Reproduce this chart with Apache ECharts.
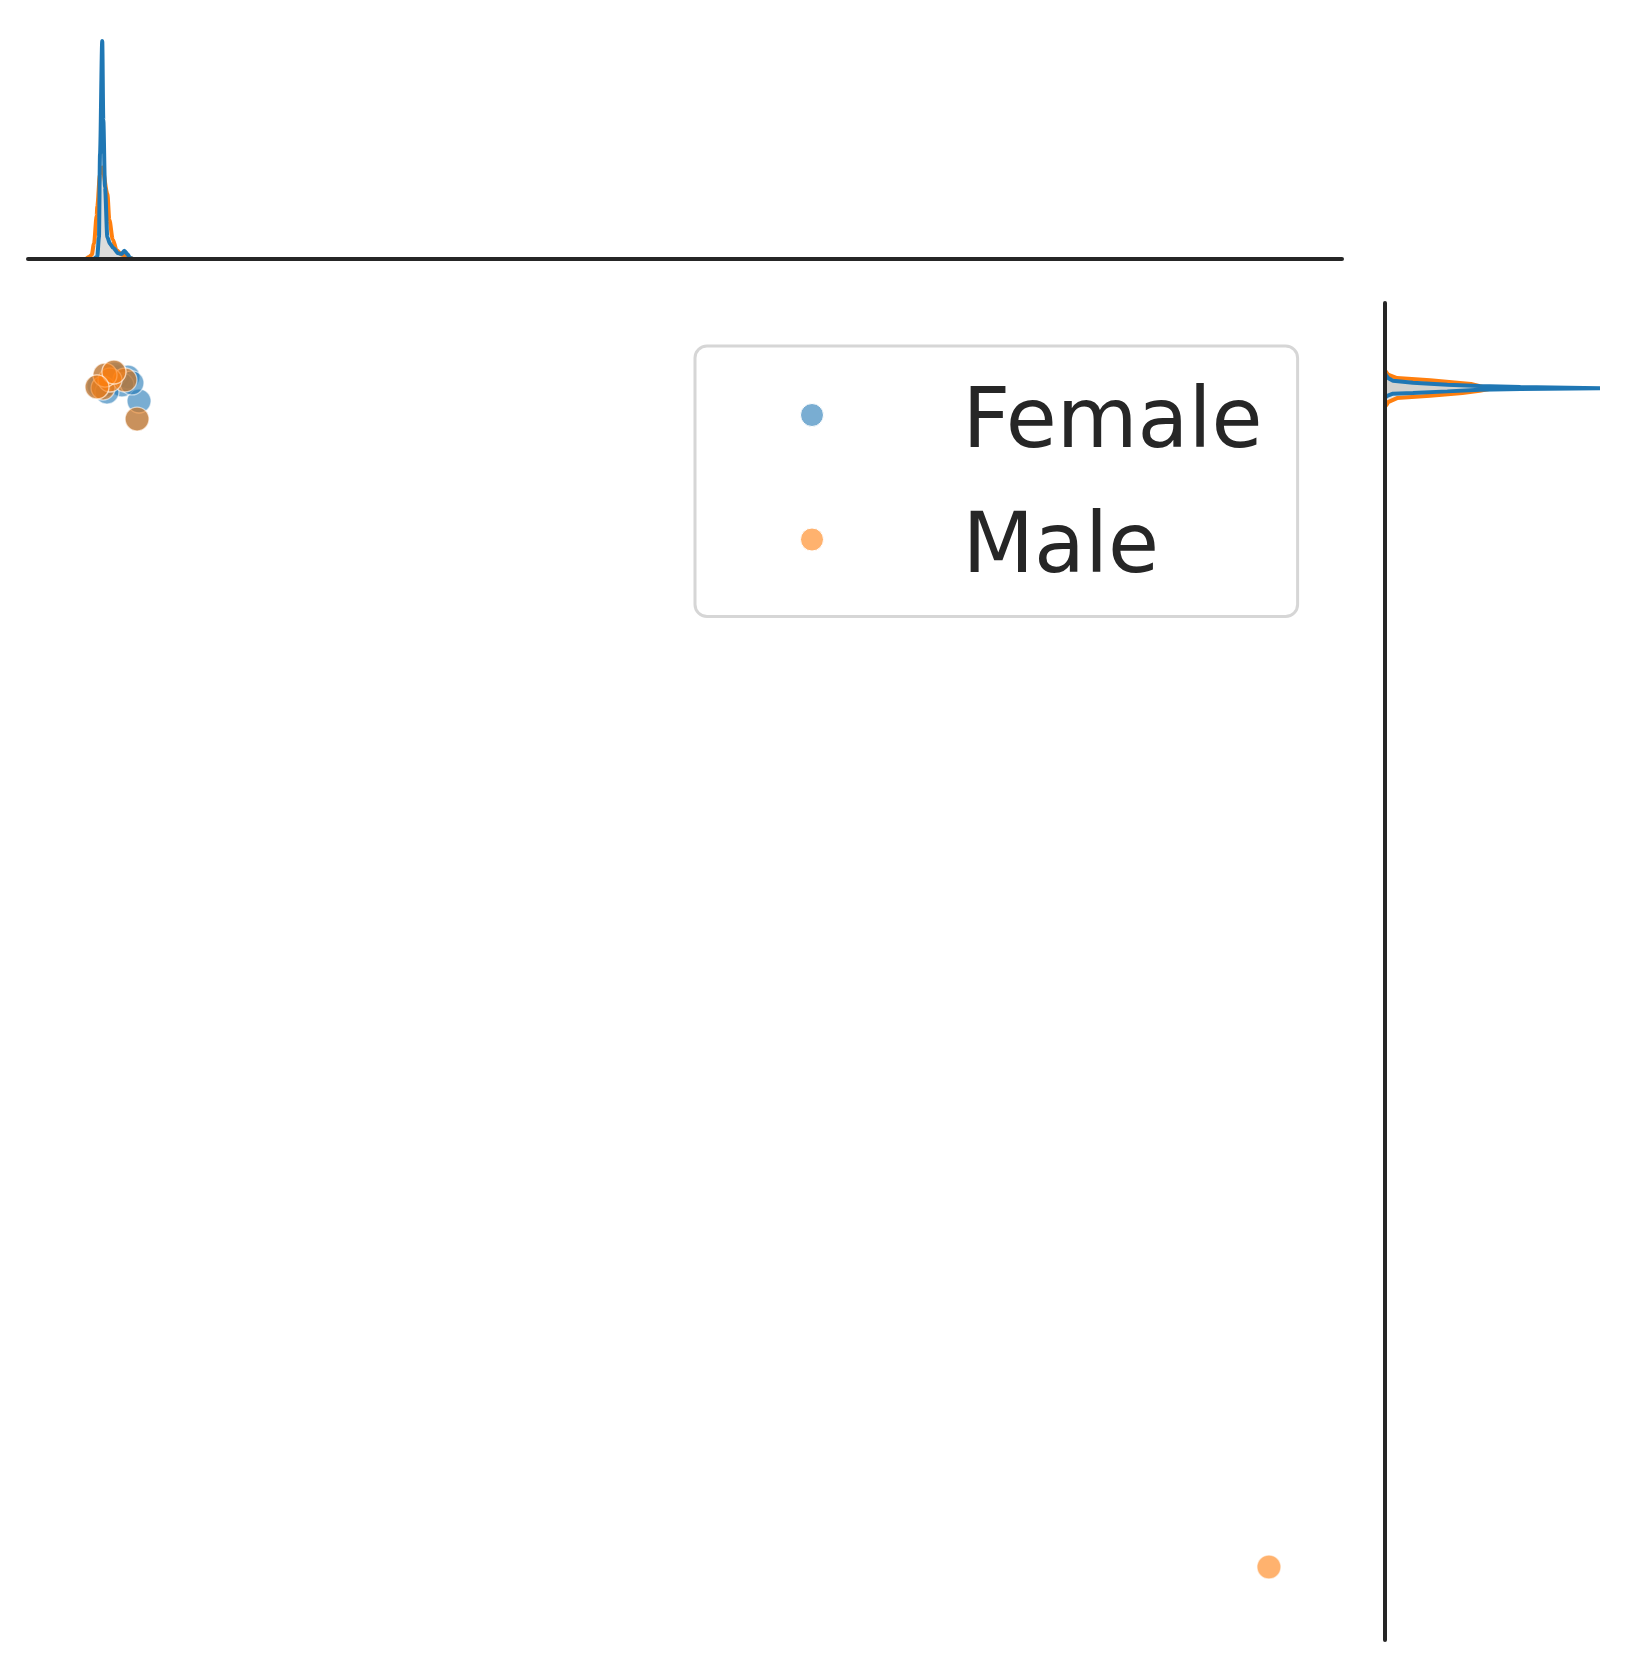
<!DOCTYPE html>
<html>
<head>
<meta charset="utf-8">
<script src="https://cdn.jsdelivr.net/npm/echarts@6/dist/echarts.min.js"></script>
<style>
html,body{margin:0;padding:0;background:#fff;}
#chart{width:1639px;height:1667px;}
</style>
</head>
<body>
<div id="chart"></div>
<script>
// Categories
const categories = ['Female', 'Male'];

// Joint scatter points [x, y] (axis units 0..1000)
const femalePoints = [
  [57.1, 936.4], [56.3, 937.2], [73.8, 942.4], [83.0, 913.2], [58.6, 938.7],
  [62.4, 942.4], [68.5, 944.6], [54.0, 937.9], [84.5, 926.7], [76.1, 944.6],
  [66.2, 946.9], [71.5, 938.7], [60.1, 933.4], [79.1, 940.2], [58.6, 946.1],
  [65.4, 948.4], [52.5, 937.2]
];
const malePoints = [
  [57.1, 936.4], [73.8, 942.4], [83.0, 913.2], [62.4, 942.4], [58.6, 946.1],
  [65.4, 948.4], [52.5, 937.2], [944.4, 54.6]
];

// Top marginal density [x, density] (relative density, peak = 100)
const femaleKdeX = [
  [50.0, 0], [52.7, 1], [54.0, 10], [54.8, 48], [56.5, 100], [57.3, 64],
  [58.6, 33], [60.4, 10], [62.4, 7], [64.9, 5], [68.7, 2.6], [71.3, 2.3],
  [73.3, 3.8], [75.6, 2.3], [77.6, 0.5], [80.0, 0]
];
const maleKdeX = [
  [44.0, 0], [46.7, 1], [48.5, 2], [50.2, 7], [52.3, 20], [52.7, 24],
  [54.8, 39], [56.5, 42], [60.4, 30], [61.9, 18], [64.5, 9], [67.5, 4],
  [71.3, 2], [77.6, 0.5], [80.0, 0]
];

// Right marginal density [density, y]
const femaleKdeY = [
  [0, 928.5], [0.5, 930.2], [1.4, 931.5], [3.7, 932.2], [13, 932.7], [29, 933.9],
  [44, 935.2], [63, 935.6], [100, 936.2], [63, 937.2], [44, 937.9], [29, 938.9],
  [13, 940.4], [3.7, 941.9], [1.4, 943.9], [0.5, 945.9], [0, 947.5]
];
const maleKdeY = [
  [0, 922.5], [1, 924.4], [1.4, 925.9], [5.6, 928.9], [21, 930.6], [36, 932.7],
  [44, 934.3], [49, 935.8], [40, 939.4], [21, 942.2], [5.6, 943.9], [1.4, 946.4],
  [1, 947.6], [0, 949.5]
];

const BLUE = '#1f77b4';
const ORANGE = '#ff7f0e';
const FILL = 'rgba(140,140,130,0.22)';

function polygonFill(arr) {
  return function (params, api) {
    if (params.dataIndex !== 0) return null;
    const pts = arr.map(p => api.coord([p[0], p[1]]));
    pts.push(api.coord([0, arr[arr.length - 1][1]]));
    pts.push(api.coord([0, arr[0][1]]));
    return { type: 'polygon', shape: { points: pts }, style: { fill: FILL } };
  };
}

const chart = echarts.init(document.getElementById('chart'), null, { renderer: 'canvas' });

const spine = { show: true, onZero: false, lineStyle: { color: '#262626', width: 4 } };

chart.setOption({
  backgroundColor: '#ffffff',
  animation: false,
  grid: [
    { left: 28, top: 303, width: 1314, height: 1337 },
    { left: 28, top: 41, width: 1314, height: 218 },
    { left: 1385, top: 303, width: 215, height: 1337 }
  ],
  xAxis: [
    { gridIndex: 0, type: 'value', min: 0, max: 1000, show: false },
    { gridIndex: 1, type: 'value', min: 0, max: 1000, z: 10, axisLine: spine,
      axisTick: { show: false }, axisLabel: { show: false }, splitLine: { show: false } },
    { gridIndex: 2, type: 'value', min: 0, max: 100, show: false }
  ],
  yAxis: [
    { gridIndex: 0, type: 'value', min: 0, max: 1000, show: false },
    { gridIndex: 1, type: 'value', min: 0, max: 100, show: false },
    { gridIndex: 2, type: 'value', min: 0, max: 1000, z: 10, axisLine: spine,
      axisTick: { show: false }, axisLabel: { show: false }, splitLine: { show: false } }
  ],
  legend: {
    data: [
      { name: categories[0], itemStyle: { color: 'rgba(31,119,180,0.6)', borderColor: '#fff', borderWidth: 1, opacity: 1 } },
      { name: categories[1], itemStyle: { color: 'rgba(255,127,14,0.6)', borderColor: '#fff', borderWidth: 1, opacity: 1 } }
    ],
    orient: 'vertical',
    left: 695, top: 346,
    padding: [13.5, 35, 21.5, 105],
    itemGap: 13.5,
    itemWidth: 23, itemHeight: 23,
    icon: 'circle',
    borderColor: '#d6d6d6', borderWidth: 3, borderRadius: 12,
    backgroundColor: '#ffffff',
    formatter: '{t|{name}}',
    textStyle: {
      fontFamily: 'DejaVu Sans', fontSize: 83, color: '#262626', lineHeight: 90,
      padding: [21, 0, 0, 134],
      rich: { t: { fontFamily: 'DejaVu Sans', fontSize: 83, color: '#262626', lineHeight: 90 } }
    }
  },
  series: [
    { name: categories[0], type: 'scatter', xAxisIndex: 0, yAxisIndex: 0, data: femalePoints,
      symbolSize: 24, itemStyle: { color: BLUE, opacity: 0.6, borderColor: '#ffffff', borderWidth: 1.3 }, z: 2 },
    { name: categories[1], type: 'scatter', xAxisIndex: 0, yAxisIndex: 0, data: malePoints,
      symbolSize: 24, itemStyle: { color: ORANGE, opacity: 0.6, borderColor: '#ffffff', borderWidth: 1.3 }, z: 3 },

    { name: 'kdeX-male', type: 'line', xAxisIndex: 1, yAxisIndex: 1, data: maleKdeX, showSymbol: false,
      smooth: 0.3, smoothMonotone: 'x', clip: false, lineStyle: { color: ORANGE, width: 4 },
      areaStyle: { color: FILL, origin: 'start' }, z: 2 },
    { name: 'kdeX-female', type: 'line', xAxisIndex: 1, yAxisIndex: 1, data: femaleKdeX, showSymbol: false,
      smooth: 0.3, smoothMonotone: 'x', clip: false, lineStyle: { color: BLUE, width: 4 },
      areaStyle: { color: FILL, origin: 'start' }, z: 3 },

    { name: 'kdeY-male-fill', type: 'custom', xAxisIndex: 2, yAxisIndex: 2, data: maleKdeY,
      renderItem: polygonFill(maleKdeY), encode: { x: 0, y: 1 }, z: 1, silent: true },
    { name: 'kdeY-female-fill', type: 'custom', xAxisIndex: 2, yAxisIndex: 2, data: femaleKdeY,
      renderItem: polygonFill(femaleKdeY), encode: { x: 0, y: 1 }, z: 1, silent: true },
    { name: 'kdeY-male', type: 'line', xAxisIndex: 2, yAxisIndex: 2, data: maleKdeY, showSymbol: false,
      clip: false, lineStyle: { color: ORANGE, width: 4 }, z: 2 },
    { name: 'kdeY-female', type: 'line', xAxisIndex: 2, yAxisIndex: 2, data: femaleKdeY, showSymbol: false,
      clip: false, lineStyle: { color: BLUE, width: 4 }, z: 3 }
  ]
});
</script>
</body>
</html>
